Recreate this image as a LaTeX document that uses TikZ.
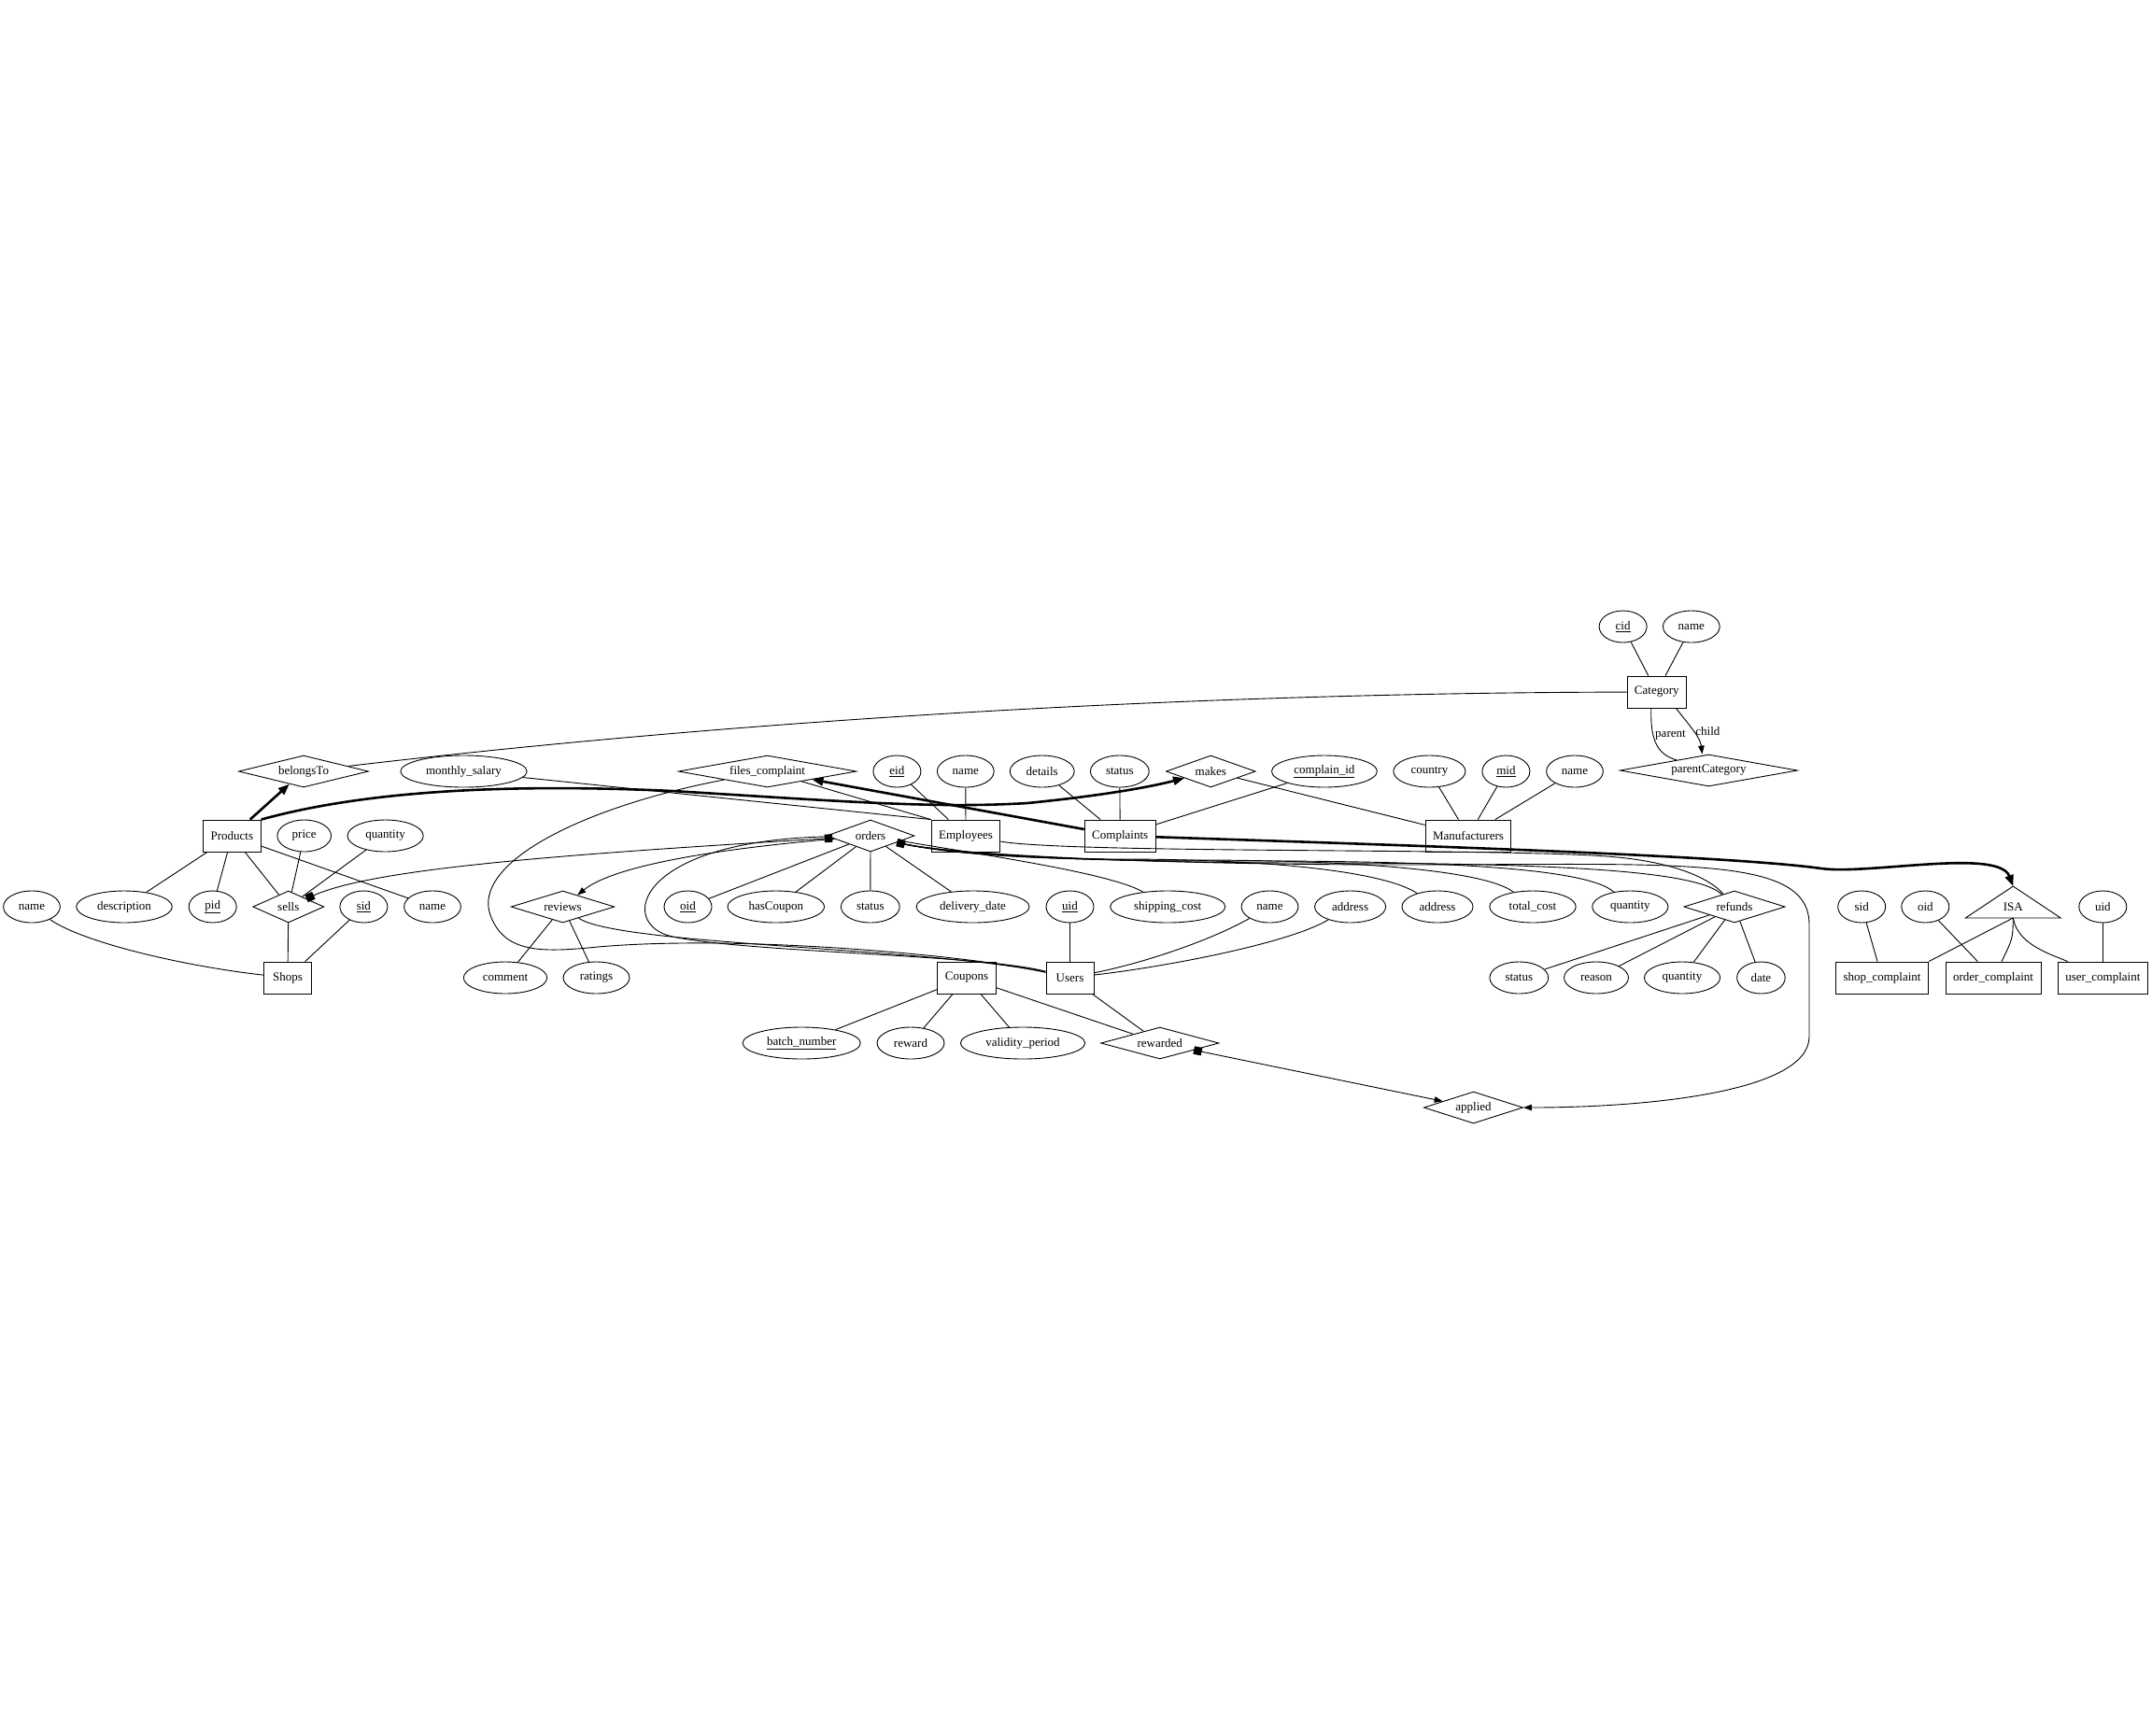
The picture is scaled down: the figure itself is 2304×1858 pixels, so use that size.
\documentclass[tikz,border=0pt]{standalone}
\usepackage{fontspec}
\setmainfont{Liberation Serif}
\usetikzlibrary{arrows.meta,shapes.geometric}

\begin{document}
\begin{tikzpicture}[
  x=1pt, y=-1pt,
  line width=0.9pt,
  font=\fontsize{13}{15}\selectfont,
  attr/.style={draw, ellipse, inner xsep=7.4pt, inner ysep=2pt, minimum width=51pt, minimum height=34pt},
  entity/.style={draw, rectangle, inner xsep=8pt, minimum width=51pt, minimum height=34pt},
  rel/.style={draw, diamond, aspect=4, inner sep=0pt, minimum height=34pt, minimum width=#1},
  arr/.style={-{Triangle[length=9pt,width=6.5pt]}},
  thickarr/.style={-{Triangle[length=12pt,width=9pt]}, line width=2.6pt},
  boxboth/.style={{Square[length=8.5pt,width=8.5pt]}-{Square[length=8.5pt,width=8.5pt]}},
  boxarr/.style={{Square[length=8.5pt,width=8.5pt]}-{Triangle[length=9pt,width=6.5pt]}},
  lbl/.style={inner sep=2pt},
]
\useasboundingbox (0,0) rectangle (2304,1858);

% entities
\node[entity] (products) at (248.4,895) {Products};
\node[entity] (shops) at (308,1047) {Shops};
\node[entity] (employees) at (1034,895) {Employees};
\node[entity] (complaints) at (1199.2,895) {Complaints};
\node[entity] (manufacturers) at (1572,895) {Manufacturers};
\node[entity] (category) at (1773.8,741) {Category};
\node[entity] (coupons) at (1035,1047) {Coupons};
\node[entity] (users) at (1145.5,1047) {Users};
\node[entity] (shopComplaint) at (2015,1047) {shop\_complaint};
\node[entity] (orderComplaint) at (2134,1047) {order\_complaint};
\node[entity] (userComplaint) at (2251.3,1047) {user\_complaint};

% relationships
\node[rel=139] (belongsTo) at (325,826) {belongsTo};
\node[rel=76] (sells) at (308.8,971) {sells};
\node[rel=190.6] (filesComplaint) at (821.6,826) {files\_complaint};
\node[rel=95.7] (makes) at (1296.3,826) {makes};
\node[rel=94] (orders) at (932,895) {orders};
\node[rel=110.6] (reviews) at (602.5,971) {reviews};
\node[rel=108.3] (refunds) at (1857,971) {refunds};
\node[rel=190] (parentCategory) at (1829.4,825) {parentCategory};
\node[rel=126.3] (rewarded) at (1241.8,1117) {rewarded};
\node[rel=106] (applied) at (1577.5,1186) {applied};

% ISA
\coordinate (isaTop) at (2155.3,949);
\coordinate (isaBot) at (2155.3,983);
\node (isa) at (2155.3,971) {ISA};
\draw (isaTop) -- ([xshift=-51pt]isaBot) -- ([xshift=51pt]isaBot) -- cycle;

% attributes
\node[attr] (nameS) at (34,971) {name};
\node[attr] (description) at (133,971) {description};
\node[attr] (pid) at (227.7,971) {\underline{pid}};
\node[attr] (price) at (325.7,895) {price};
\node[attr] (quantityS) at (412.6,895) {quantity};
\node[attr] (sid) at (389.4,971) {\underline{sid}};
\node[attr] (nameP) at (463,971) {name};
\node[attr] (salary) at (496.5,826) {monthly\_salary};
\node[attr] (comment) at (541,1047) {comment};
\node[attr] (ratings) at (638.5,1047) {ratings};
\node[attr] (oid) at (736.5,971) {\underline{oid}};
\node[attr] (hasCoupon) at (830.8,971) {hasCoupon};
\node[attr] (statusO) at (931.8,971) {status};
\node[attr] (delivery) at (1041.5,971) {delivery\_date};
\node[attr] (eid) at (960.4,826) {\underline{eid}};
\node[attr] (nameE) at (1033.8,826) {name};
\node[attr] (details) at (1115.7,826) {details};
\node[attr] (statusC) at (1198.8,826) {status};
\node[attr] (complainId) at (1417.9,826) {\underline{complain\_id}};
\node[attr] (country) at (1530.4,826) {country};
\node[attr] (mid) at (1612.4,826) {\underline{mid}};
\node[attr] (nameM) at (1686,826) {name};
\node[attr] (uid) at (1145.5,971) {\underline{uid}};
\node[attr] (shipping) at (1250.2,971) {shipping\_cost};
\node[attr] (nameU) at (1359.5,971) {name};
\node[attr] (addressU) at (1445.6,971) {address};
\node[attr] (addressO) at (1539,971) {address};
\node[attr] (totalCost) at (1641,971) {total\_cost};
\node[attr] (quantityO) at (1745.3,971) {quantity};
\node[attr] (statusR) at (1626.3,1047) {status};
\node[attr] (reason) at (1709,1047) {reason};
\node[attr] (quantityR) at (1801,1047) {quantity};
\node[attr] (date) at (1885.4,1047) {date};
\node[attr] (cid) at (1737.6,671) {\underline{cid}};
\node[attr] (nameCat) at (1810.8,671) {name};
\node[attr] (sidC) at (1993.2,971) {sid};
\node[attr] (oidC) at (2061.3,971) {oid};
\node[attr] (uidC) at (2251.3,971) {uid};
\node[attr] (batch) at (858.2,1117) {\underline{batch\_number}};
\node[attr] (reward) at (975,1117) {reward};
\node[attr] (validity) at (1095,1117) {validity\_period};

% products, shops, category
\draw[thickarr] (products) -- (belongsTo);
\draw (belongsTo) .. controls (820,768) and (1300,742) .. (category);
\draw (products) -- (description);
\draw (products) -- (pid);
\draw (products) -- (sells);
\draw (products) -- (nameP);
\draw (price) -- (sells);
\draw (quantityS) -- (sells);
\draw (sells) -- (shops);
\draw (sid) -- (shops);
\draw (nameS) .. controls (90,1010) and (200,1035) .. (shops);
\draw (cid) -- (category);
\draw (nameCat) -- (category);
\draw ([xshift=-6pt]category.south) .. controls +(-1,32) and +(-22,-6) .. (parentCategory.162)
  node[lbl, pos=0.35, right] (lblParent) {parent};
\draw[arr] ([xshift=20.6pt]category.south) .. controls +(14,18) and +(-2,-18) .. ([xshift=-7pt]parentCategory.north)
  node[lbl, midway, right] (lblChild) {child};

% employees, complaints, manufacturers
\draw (eid) -- (employees);
\draw (nameE) -- (employees);
\draw (salary) -- (employees.north west);
\draw (filesComplaint) -- (employees.north west);
\draw[thickarr] (complaints) -- (filesComplaint);
\draw (details) -- (complaints);
\draw (statusC) -- (complaints);
\draw (complainId) -- (complaints);
\draw[thickarr] (products.north east) .. controls (380,850) and (520,838) .. (720,847)
  .. controls (900,858) and (1000,866) .. (1100,860) .. controls (1180,852) and (1230,843) .. (makes);
\draw (makes) -- (manufacturers);
\draw (country) -- (manufacturers);
\draw (mid) -- (manufacturers);
\draw (nameM) -- (manufacturers);
\draw[thickarr] (complaints) .. controls (1500,905) and (1850,916) .. (1950,930)
  .. controls (2000,937) and (2140,908) .. (isaTop);

% orders
\draw (orders) -- (oid);
\draw (orders) -- (hasCoupon);
\draw (orders) -- (statusO);
\draw (orders) -- (delivery);
\draw[boxboth] (orders) .. controls (600,915) and (400,930) .. (sells);
\draw[arr] (orders) .. controls (780,908) and (660,925) .. (reviews);
\draw (orders) .. controls (680,900) and (660,990) .. (720,1003) .. controls (800,1020) and (1050,1022) .. (users);
\draw (reviews) .. controls (660,1012) and (1000,1015) .. (users);
\draw (filesComplaint) .. controls (620,865) and (505,925) .. (525,980)
  .. controls (540,1021) and (580,1020) .. (640,1014) .. controls (800,1000) and (1050,1025) .. (users);
\draw (reviews) -- (comment);
\draw (reviews) -- (ratings);
\draw (shipping) .. controls (1190,935) and (1050,915) .. (orders);
\draw (addressO) .. controls (1480,932) and (1350,920) .. (1200,920) .. controls (1080,920) and (1000,912) .. (orders);
\draw (totalCost) .. controls (1590,932) and (1450,920) .. (1250,921) .. controls (1100,921) and (1000,912) .. (orders);
\draw (quantityO) .. controls (1700,930) and (1550,921) .. (1300,922) .. controls (1100,922) and (1000,912) .. (orders);
\draw (refunds) .. controls (1820,935) and (1700,924) .. (1400,924) .. controls (1150,924) and (1000,912) .. (orders);
\draw (employees) .. controls (1150,914) and (1600,908) .. (1720,917) .. controls (1790,922) and (1830,940) .. (refunds);
\draw[boxarr] (orders) .. controls (1000,912) and (1200,926) .. (1500,926) .. controls (1800,926) and (1937,915) .. (1937,990)
  -- (1937,1110) .. controls (1937,1170) and (1760,1186) .. (applied);

% refunds
\draw (refunds) -- (statusR);
\draw (refunds) -- (reason);
\draw (refunds) -- (quantityR);
\draw (refunds) -- (date);

% users, coupons
\draw (uid) -- (users);
\draw (nameU) .. controls (1300,1005) and (1230,1030) .. (users);
\draw (addressU) .. controls (1380,1010) and (1250,1035) .. (users);
\draw (users) -- (rewarded);
\draw (coupons) -- (rewarded);
\draw (coupons) -- (batch);
\draw (coupons) -- (reward);
\draw (coupons) -- (validity);
\draw[boxarr] (rewarded) -- (applied);

% complaint subclasses
\draw (isaBot) -- (shopComplaint.north east);
\draw (isaBot) .. controls (2155,1005) .. ([xshift=9pt]orderComplaint.north);
\draw (isaBot) .. controls (2160,1010) and (2190,1020) .. ([xshift=11pt]userComplaint.north west);
\draw (sidC) -- (shopComplaint);
\draw (oidC) -- (orderComplaint);
\draw (uidC) -- (userComplaint);
\end{tikzpicture}
\end{document}
